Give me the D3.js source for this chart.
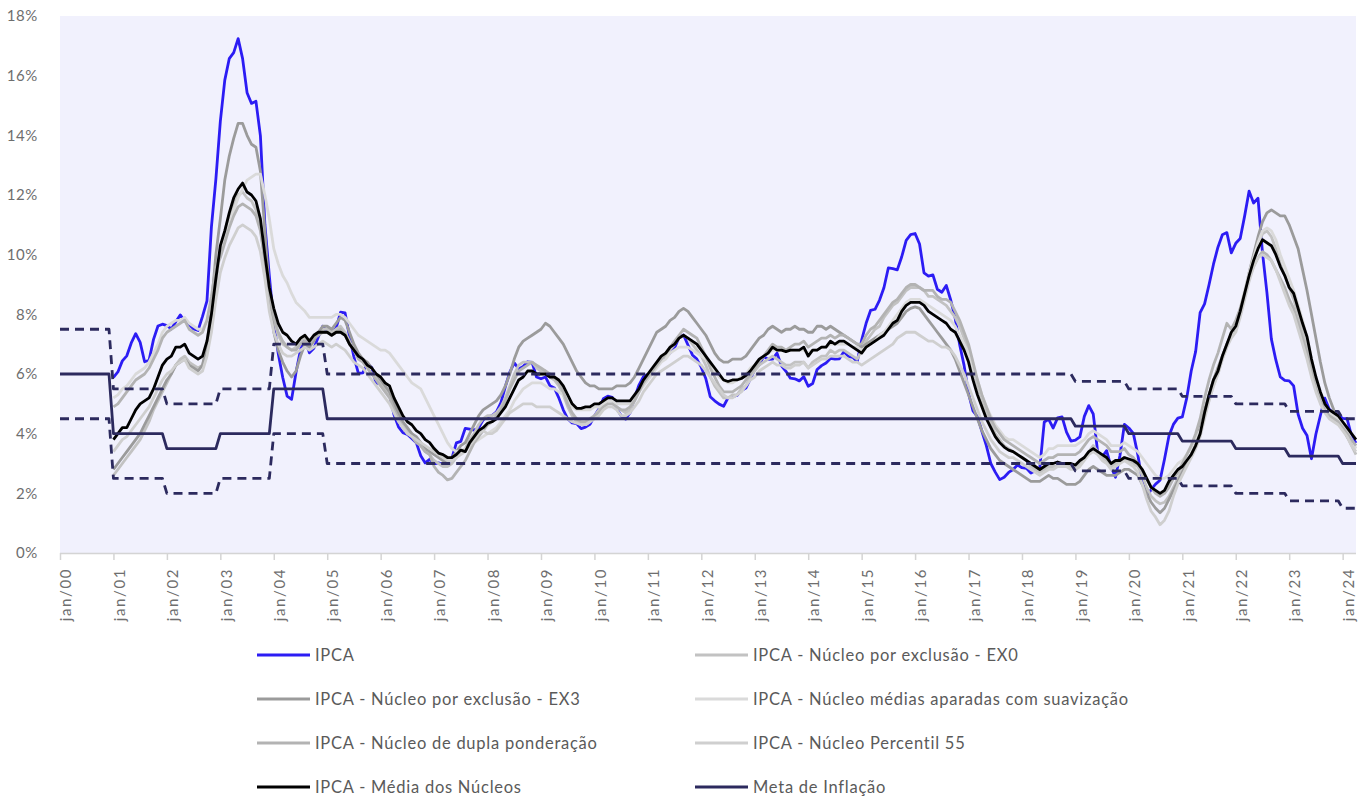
<!DOCTYPE html>
<html><head><meta charset="utf-8">
<script src="https://cdn.jsdelivr.net/npm/d3@7"></script>
<style>
body{margin:0;background:#fff;}
svg{display:block;font-family:Lato,"Open Sans",sans-serif;}
</style>
</head><body>
<svg id="chart" width="1365" height="796"></svg>
<script>
// ---------------- DATA ----------------
// x-axis tick labels (one per January, 2000..2024)
const tickLabels = ["jan/00","jan/01","jan/02","jan/03","jan/04","jan/05","jan/06","jan/07","jan/08","jan/09","jan/10","jan/11","jan/12","jan/13","jan/14","jan/15","jan/16","jan/17","jan/18","jan/19","jan/20","jan/21","jan/22","jan/23","jan/24"];
const yTicks = [0,2,4,6,8,10,12,14,16,18];
// monthly series, 12-month accumulated (%), Jan 2001 .. Apr 2024
const ipca = [
5.89,6.07,6.44,6.61,7.04,7.35,7.06,6.41,6.46,7.16,7.61,7.67,
7.62,7.51,7.75,7.98,7.77,7.66,7.51,7.46,7.93,8.45,10.93,12.53,
14.47,15.85,16.57,16.77,17.24,16.57,15.43,15.07,15.14,13.98,11.02,9.30,
7.71,6.69,5.89,5.26,5.15,6.06,6.81,7.18,6.71,6.86,7.24,7.60,
7.41,7.39,7.54,8.07,8.05,7.27,6.57,6.02,6.04,6.36,6.22,5.69,
5.70,5.51,5.32,4.63,4.23,4.03,3.97,3.84,3.70,3.26,3.02,3.14,
2.99,3.02,2.96,3.00,3.18,3.69,3.74,4.18,4.15,4.12,4.19,4.46,
4.56,4.61,4.73,5.04,5.58,6.06,6.37,6.17,6.25,6.41,6.39,5.90,
5.84,5.90,5.61,5.53,5.20,4.80,4.50,4.36,4.34,4.17,4.22,4.31,
4.59,4.83,5.17,5.26,5.22,4.84,4.60,4.49,4.70,5.20,5.63,5.91,
5.99,6.01,6.30,6.51,6.55,6.71,6.87,7.23,7.31,6.97,6.64,6.50,
6.22,5.85,5.24,5.10,4.99,4.92,5.20,5.24,5.28,5.45,5.53,5.84,
6.15,6.31,6.59,6.49,6.50,6.70,6.27,6.09,5.86,5.84,5.77,5.91,
5.59,5.68,6.15,6.28,6.37,6.52,6.50,6.51,6.75,6.59,6.56,6.41,
7.14,7.70,8.13,8.17,8.47,8.89,9.56,9.53,9.49,9.93,10.48,10.67,
10.71,10.36,9.39,9.28,9.32,8.84,8.74,8.97,8.48,7.87,6.99,6.29,
5.35,4.76,4.57,4.08,3.60,3.00,2.71,2.46,2.54,2.70,2.80,2.95,
2.86,2.84,2.68,2.76,2.86,4.39,4.48,4.19,4.53,4.56,4.05,3.75,
3.78,3.89,4.58,4.94,4.66,3.37,3.22,3.43,2.89,2.54,3.27,4.31,
4.19,4.01,3.30,2.40,1.88,2.13,2.31,2.44,3.14,3.92,4.31,4.52,
4.56,5.20,6.10,6.76,8.06,8.35,8.99,9.68,10.25,10.67,10.74,10.06,
10.38,10.54,11.30,12.13,11.73,11.89,10.07,8.73,7.17,6.47,5.90,5.79,
5.77,5.60,4.65,4.18,3.94,3.16,3.99,4.61,5.19,4.82,4.68,4.62,
4.51,4.50,3.93,3.69];
const ex0 = [
2.6,2.8,3.0,3.2,3.4,3.6,3.8,4.1,4.4,4.8,5.1,5.4,
5.7,6.0,6.3,6.5,6.6,6.4,6.3,6.2,6.3,6.8,7.7,9.0,
10.2,10.8,11.3,11.7,12.0,12.1,11.9,11.8,11.5,10.9,9.7,8.6,
7.8,7.3,7.0,6.9,6.8,6.9,7.1,7.2,7.1,7.3,7.4,7.5,
7.5,7.4,7.5,7.6,7.4,7.1,6.8,6.6,6.4,6.2,6.0,5.9,
5.7,5.5,5.3,4.9,4.6,4.3,4.1,4.0,3.8,3.6,3.4,3.3,
3.1,3.0,2.9,2.9,3.0,3.2,3.4,3.5,3.8,4.0,4.3,4.5,
4.6,4.6,4.7,4.9,5.2,5.6,6.0,6.3,6.4,6.4,6.4,6.2,
6.1,6.1,5.9,5.8,5.6,5.3,4.9,4.6,4.4,4.3,4.3,4.4,
4.6,4.8,5.0,5.1,5.1,4.9,4.8,4.7,4.8,5.1,5.4,5.7,
5.9,6.0,6.3,6.5,6.6,6.8,7.0,7.2,7.3,7.2,7.0,6.8,
6.6,6.3,5.9,5.6,5.4,5.2,5.2,5.3,5.3,5.5,5.6,5.9,
6.1,6.3,6.4,6.5,6.6,6.5,6.4,6.3,6.3,6.4,6.4,6.4,
6.2,6.4,6.5,6.6,6.6,6.8,6.7,6.8,6.8,6.7,6.6,6.5,
6.8,7.1,7.3,7.5,7.6,7.9,8.1,8.3,8.4,8.6,8.8,8.9,
8.9,8.9,8.8,8.6,8.6,8.5,8.4,8.3,8.1,7.9,7.6,7.2,
6.8,6.2,5.6,5.1,4.7,4.3,4.0,3.8,3.6,3.5,3.4,3.3,
3.2,3.1,2.9,2.8,2.7,2.8,2.9,2.9,2.9,2.9,2.9,2.9,
2.9,3.0,3.2,3.4,3.6,3.4,3.2,3.1,2.9,3.0,3.1,3.2,
3.1,3.0,2.9,2.6,2.2,1.9,1.75,1.65,1.7,1.9,2.2,2.5,
2.8,3.0,3.3,3.6,4.0,4.7,5.3,5.8,6.2,6.6,7.0,7.3,
7.5,8.0,8.6,9.2,9.8,10.3,10.7,10.8,10.6,10.2,9.7,9.3,
8.9,8.5,8.0,7.4,6.9,6.2,5.6,5.1,4.8,4.6,4.5,4.5,
4.2,3.9,3.6,3.3];
const ex3 = [
2.8,3.0,3.2,3.4,3.6,3.8,4.0,4.3,4.6,4.9,5.2,5.5,
5.8,6.0,6.3,6.4,6.5,6.3,6.2,6.1,6.3,7.0,8.3,10.0,
11.2,12.5,13.3,13.9,14.4,14.4,14.0,13.7,13.6,12.8,10.8,8.8,
7.4,6.8,6.4,6.1,5.9,6.1,6.6,7.0,6.9,7.1,7.4,7.6,
7.6,7.5,7.7,7.9,7.8,7.4,7.0,6.7,6.5,6.4,6.2,6.0,
5.8,5.6,5.4,5.0,4.7,4.4,4.2,4.0,3.9,3.7,3.5,3.4,
3.3,3.2,3.1,3.1,3.2,3.4,3.6,3.7,4.0,4.3,4.6,4.8,
4.9,5.0,5.1,5.3,5.6,6.0,6.5,6.9,7.1,7.2,7.3,7.4,
7.5,7.7,7.6,7.4,7.2,7.0,6.7,6.4,6.1,5.9,5.7,5.6,
5.6,5.5,5.5,5.5,5.5,5.6,5.6,5.6,5.7,5.9,6.2,6.5,
6.8,7.1,7.4,7.5,7.6,7.8,7.9,8.1,8.2,8.1,7.9,7.7,
7.5,7.3,7.0,6.7,6.5,6.4,6.4,6.5,6.5,6.5,6.6,6.8,
7.0,7.2,7.3,7.5,7.6,7.5,7.4,7.5,7.5,7.6,7.5,7.5,
7.4,7.4,7.6,7.6,7.5,7.6,7.5,7.4,7.3,7.2,7.1,7.0,
6.9,7.0,7.1,7.2,7.3,7.4,7.5,7.6,7.7,7.9,8.1,8.2,
8.25,8.2,8.0,7.8,7.6,7.4,7.2,7.0,6.8,6.5,6.1,5.7,
5.3,4.9,4.5,4.1,3.8,3.5,3.3,3.1,3.0,2.9,2.8,2.7,
2.6,2.5,2.4,2.4,2.4,2.5,2.6,2.5,2.5,2.4,2.3,2.3,
2.3,2.4,2.6,2.8,2.9,2.8,2.7,2.6,2.6,2.6,2.7,2.8,
2.8,2.7,2.6,2.3,2.0,1.7,1.5,1.35,1.5,1.8,2.1,2.4,
2.7,3.0,3.3,3.7,4.2,4.8,5.3,5.8,6.2,6.6,7.0,7.3,
7.6,8.1,8.7,9.4,10.0,10.6,11.1,11.4,11.5,11.4,11.3,11.3,
11.0,10.6,10.2,9.5,8.8,8.0,7.2,6.4,5.7,5.2,4.8,4.5,
4.2,3.9,3.7,3.6];
const ms = [
5.2,5.3,5.5,5.6,5.8,6.0,6.1,6.2,6.4,6.7,7.0,7.4,
7.6,7.7,7.8,7.8,7.9,7.7,7.6,7.5,7.5,7.8,8.4,9.3,
10.0,10.5,11.0,11.5,11.9,12.2,12.5,12.6,12.7,12.7,12.0,11.2,
10.2,9.7,9.3,9.05,8.7,8.4,8.25,8.1,7.9,7.9,7.9,7.9,
7.9,7.9,8.0,8.0,7.9,7.7,7.5,7.3,7.2,7.1,7.0,6.9,
6.8,6.8,6.7,6.5,6.3,6.1,5.9,5.7,5.6,5.5,5.2,4.9,
4.6,4.3,4.0,3.7,3.5,3.4,3.4,3.5,3.6,3.7,3.8,3.9,
4.0,4.1,4.2,4.4,4.6,4.8,5.1,5.3,5.5,5.6,5.7,5.7,
5.7,5.6,5.5,5.5,5.4,5.3,5.1,4.9,4.8,4.8,4.8,4.8,
4.9,4.9,5.0,5.1,5.1,5.0,5.0,5.0,5.0,5.2,5.4,5.6,
5.8,6.0,6.2,6.4,6.5,6.7,6.8,6.9,6.9,6.9,6.8,6.7,
6.6,6.5,6.3,6.1,5.9,5.8,5.7,5.7,5.8,5.9,6.0,6.2,
6.3,6.5,6.6,6.7,6.8,6.8,6.8,6.8,6.8,6.8,6.8,6.8,
6.7,6.8,6.8,6.9,6.9,7.0,7.0,7.0,7.0,7.0,6.9,6.9,
6.8,6.9,7.0,7.1,7.3,7.4,7.6,7.8,8.0,8.2,8.4,8.5,
8.5,8.5,8.4,8.3,8.2,8.1,8.0,7.9,7.8,7.6,7.3,7.0,
6.7,6.2,5.8,5.3,4.9,4.6,4.3,4.1,3.9,3.8,3.8,3.7,
3.6,3.5,3.4,3.3,3.2,3.3,3.5,3.5,3.6,3.6,3.6,3.6,
3.6,3.7,3.8,4.0,4.1,4.0,3.9,3.8,3.6,3.6,3.6,3.7,
3.6,3.5,3.4,3.2,3.0,2.8,2.6,2.5,2.5,2.6,2.8,3.0,
3.1,3.3,3.5,3.8,4.1,4.6,5.1,5.6,6.0,6.5,6.9,7.3,
7.7,8.2,8.8,9.4,9.9,10.4,10.8,10.9,10.8,10.5,10.0,9.6,
9.2,8.8,8.3,7.8,7.2,6.5,5.8,5.3,4.9,4.7,4.6,4.5,
4.3,4.1,3.8,3.5];
const dp = [
4.9,5.0,5.2,5.4,5.6,5.8,5.9,6.0,6.2,6.5,6.8,7.2,
7.4,7.5,7.6,7.7,7.8,7.5,7.4,7.3,7.4,7.8,8.6,9.6,
9.9,10.4,10.9,11.3,11.6,11.7,11.6,11.5,11.3,10.8,9.8,8.7,
7.9,7.4,7.1,6.9,6.8,6.8,7.0,7.1,7.0,7.2,7.3,7.4,
7.4,7.3,7.4,7.5,7.3,7.0,6.8,6.5,6.4,6.2,6.0,5.8,
5.6,5.4,5.2,4.8,4.5,4.2,4.0,3.9,3.7,3.6,3.4,3.3,
2.9,2.7,2.6,2.45,2.5,2.7,2.9,3.1,3.4,3.7,3.9,4.1,
4.3,4.4,4.6,4.8,5.1,5.5,5.8,6.1,6.2,6.3,6.4,6.3,
6.2,6.1,6.0,5.9,5.7,5.4,5.0,4.7,4.5,4.4,4.4,4.5,
4.6,4.7,4.9,5.0,5.0,4.9,4.8,4.8,4.9,5.1,5.4,5.7,
5.9,6.1,6.3,6.5,6.7,6.9,7.1,7.3,7.5,7.4,7.3,7.2,
6.9,6.6,6.2,5.9,5.6,5.4,5.4,5.4,5.5,5.6,5.8,6.0,
6.2,6.4,6.6,6.8,7.0,6.9,6.9,6.8,6.9,7.0,7.0,7.1,
6.9,7.0,7.1,7.2,7.2,7.3,7.2,7.3,7.3,7.2,7.1,7.0,
7.0,7.3,7.5,7.6,7.8,8.0,8.2,8.4,8.5,8.7,8.9,9.0,
9.0,8.9,8.8,8.8,8.8,8.6,8.5,8.5,8.4,8.1,7.8,7.4,
7.0,6.4,5.8,5.3,4.9,4.5,4.2,4.0,3.8,3.7,3.6,3.5,
3.4,3.3,3.2,3.1,3.0,3.1,3.2,3.2,3.3,3.3,3.3,3.3,
3.3,3.4,3.6,3.8,3.9,3.8,3.7,3.6,3.4,3.4,3.4,3.5,
3.3,3.2,3.0,2.8,2.5,2.2,2.0,1.9,2.0,2.2,2.5,2.7,
3.0,3.3,3.6,4.0,4.5,5.2,5.8,6.3,6.7,7.2,7.7,7.5,
7.8,8.2,8.7,9.2,9.6,9.9,10.1,10.0,9.8,9.5,9.2,8.9,
8.5,8.2,7.7,7.2,6.7,6.1,5.5,5.1,4.8,4.6,4.5,4.4,
4.2,4.0,3.8,3.6];
const p55 = [
3.4,3.6,3.8,3.9,4.1,4.3,4.5,4.7,4.9,5.2,5.5,5.8,
6.0,6.1,6.3,6.4,6.5,6.2,6.1,6.0,6.1,6.6,7.4,8.5,
9.4,9.9,10.3,10.6,10.9,11.0,10.9,10.8,10.6,10.1,9.2,8.1,
7.4,7.0,6.7,6.6,6.6,6.7,6.8,6.9,6.8,6.9,7.0,7.1,
7.0,6.9,7.0,6.9,6.8,6.6,6.4,6.3,6.2,6.0,5.8,5.6,
5.4,5.2,5.0,4.7,4.4,4.2,4.0,3.9,3.8,3.7,3.6,3.5,
3.4,3.3,3.2,3.1,3.1,3.2,3.3,3.4,3.6,3.8,4.0,4.1,
4.0,4.0,4.1,4.3,4.5,4.7,4.8,4.9,5.0,5.0,5.0,4.9,
4.9,4.9,4.9,4.8,4.7,4.6,4.5,4.4,4.35,4.3,4.3,4.4,
4.5,4.6,4.8,4.9,4.9,4.8,4.6,4.6,4.7,4.9,5.1,5.4,
5.6,5.8,6.0,6.1,6.2,6.3,6.4,6.5,6.6,6.6,6.5,6.4,
6.3,6.1,5.9,5.7,5.5,5.3,5.2,5.2,5.3,5.4,5.6,5.8,
5.9,6.1,6.2,6.3,6.4,6.3,6.3,6.2,6.2,6.3,6.3,6.4,
6.2,6.3,6.4,6.5,6.5,6.6,6.6,6.6,6.6,6.5,6.4,6.4,
6.3,6.4,6.5,6.6,6.7,6.8,6.9,7.0,7.2,7.3,7.4,7.4,
7.4,7.3,7.2,7.1,7.1,7.0,6.9,6.9,6.8,6.6,6.3,6.0,
5.6,5.2,4.8,4.4,4.1,3.8,3.6,3.4,3.3,3.2,3.2,3.1,
3.0,2.9,2.8,2.7,2.6,2.7,2.8,2.8,2.9,2.9,2.9,2.8,
2.8,2.9,3.1,3.3,3.4,3.3,3.1,3.0,2.8,2.9,3.0,3.1,
3.0,2.9,2.7,2.3,1.8,1.4,1.2,0.95,1.1,1.4,1.9,2.3,
2.6,2.9,3.2,3.5,3.9,4.5,5.1,5.6,6.0,6.5,6.9,7.2,
7.4,7.9,8.5,9.1,9.6,9.9,10.0,9.9,9.8,9.5,9.1,8.7,
8.3,8.0,7.5,7.0,6.5,5.9,5.4,5.0,4.7,4.5,4.4,4.3,
4.1,3.9,3.6,3.4];
const media = [
3.8,4.0,4.2,4.2,4.5,4.8,5.0,5.1,5.2,5.5,5.9,6.3,
6.5,6.6,6.9,6.9,7.0,6.7,6.6,6.5,6.6,7.1,8.0,9.2,
10.3,10.8,11.4,11.9,12.2,12.4,12.1,12.0,11.8,11.2,10.0,8.9,
8.2,7.7,7.4,7.3,7.1,7.0,7.2,7.3,7.1,7.3,7.4,7.4,
7.4,7.3,7.4,7.4,7.3,7.0,6.8,6.6,6.5,6.3,6.2,6.0,
5.9,5.7,5.6,5.2,4.9,4.6,4.4,4.3,4.1,4.0,3.8,3.7,
3.5,3.35,3.3,3.2,3.2,3.3,3.45,3.4,3.7,3.9,4.1,4.2,
4.35,4.4,4.5,4.7,4.9,5.2,5.5,5.8,5.9,6.1,6.1,6.0,
6.0,6.0,5.9,5.9,5.8,5.6,5.3,5.0,4.85,4.85,4.9,4.9,
5.0,5.0,5.1,5.2,5.2,5.1,5.1,5.1,5.1,5.3,5.5,5.8,
6.0,6.2,6.4,6.6,6.7,6.9,7.0,7.2,7.3,7.2,7.1,7.0,
6.8,6.6,6.4,6.2,6.0,5.8,5.75,5.8,5.8,5.85,5.95,6.1,
6.3,6.5,6.6,6.7,6.9,6.8,6.8,6.75,6.8,6.8,6.8,6.9,
6.6,6.8,6.8,6.9,6.9,7.1,7.0,7.1,7.1,7.0,6.9,6.8,
6.7,6.9,7.0,7.1,7.2,7.3,7.5,7.7,7.8,8.1,8.3,8.4,
8.4,8.4,8.3,8.1,8.0,7.9,7.8,7.7,7.5,7.4,7.1,6.8,
6.4,5.8,5.3,4.9,4.5,4.2,3.9,3.7,3.55,3.45,3.4,3.3,
3.2,3.1,3.0,2.9,2.8,2.9,3.0,3.0,3.05,3.0,3.0,3.0,
2.95,3.1,3.2,3.4,3.5,3.4,3.3,3.2,3.0,3.1,3.1,3.2,
3.15,3.1,3.0,2.8,2.5,2.2,2.1,2.0,2.1,2.4,2.6,2.8,
2.9,3.1,3.3,3.6,4.0,4.7,5.3,5.8,6.1,6.6,7.0,7.4,
7.6,8.1,8.7,9.3,9.8,10.2,10.5,10.4,10.3,10.0,9.6,9.3,
8.9,8.7,8.2,7.7,7.25,6.5,5.9,5.4,5.0,4.8,4.7,4.6,
4.4,4.2,4.0,3.8];
// Inflation target and tolerance band, by calendar year (2000..2024)
const metaYears  = [2000,2001,2002,2003,2004,2005,2006,2007,2008,2009,2010,2011,2012,2013,2014,2015,2016,2017,2018,2019,2020,2021,2022,2023,2024];
const metaTarget = [6.0,4.0,3.5,4.0,5.5,4.5,4.5,4.5,4.5,4.5,4.5,4.5,4.5,4.5,4.5,4.5,4.5,4.5,4.5,4.25,4.0,3.75,3.5,3.25,3.0];
const metaUpper  = [7.5,5.5,5.0,5.5,7.0,6.0,6.0,6.0,6.0,6.0,6.0,6.0,6.0,6.0,6.0,6.0,6.0,6.0,6.0,5.75,5.5,5.25,5.0,4.75,4.5];
const metaLower  = [4.5,2.5,2.0,2.5,4.0,3.0,3.0,3.0,3.0,3.0,3.0,3.0,3.0,3.0,3.0,3.0,3.0,3.0,3.0,2.75,2.5,2.25,2.0,1.75,1.5];
const seriesNames = ["IPCA","IPCA - Núcleo por exclusão - EX0","IPCA - Núcleo por exclusão - EX3","IPCA - Núcleo médias aparadas com suavização","IPCA - Núcleo de dupla ponderação","IPCA - Núcleo Percentil 55","IPCA - Média dos Núcleos","Meta de Inflação"];

// ---------------- CHART ----------------
const svg = d3.select("#chart");
const L = 60, R = 1356, T = 16, B = 553;
const lastMonth = 291;            // Apr 2024, months since Jan 2000
const coreStart = 12;             // Jan 2001
const x = d3.scaleLinear().domain([0, lastMonth]).range([L, R]);
const y = d3.scaleLinear().domain([0, 18]).range([B, T]);

svg.append("rect").attr("x", L).attr("y", T).attr("width", R - L).attr("height", B - T).attr("fill", "#f1f1fd");

// y labels
svg.append("g").selectAll("text").data(yTicks).join("text")
  .attr("x", 38).attr("y", d => y(d)).attr("dy", "0.35em")
  .attr("text-anchor", "end").attr("font-size", 15).attr("letter-spacing", 0.6).attr("fill", "#6e6e6e")
  .text(d => d + "%");

// x axis
const tickVals = tickLabels.map((_, i) => i * 12);
const xAxis = svg.append("g").attr("transform", `translate(0,${B})`)
  .call(d3.axisBottom(x).tickValues(tickVals).tickSize(7).tickFormat(""));
xAxis.select(".domain").attr("stroke", "#d4d4d4").attr("stroke-width", 1.5).attr("d", `M${L},0.5H${R}`);
xAxis.selectAll(".tick line").attr("stroke", "#d4d4d4").attr("stroke-width", 1.5);
svg.append("g").selectAll("text").data(tickLabels).join("text")
  .attr("transform", (d, i) => `translate(${x(i * 12) + 6},${B + 15}) rotate(-90)`)
  .attr("text-anchor", "end").attr("dy", "0.35em")
  .attr("font-size", 15).attr("letter-spacing", 1.6).attr("fill", "#6e6e6e")
  .text(d => d);

// lines
const line = d3.line().x(d => x(d[0])).y(d => y(d[1]));
const toPts = arr => arr.map((v, i) => [i + coreStart, v]);
const monthly = arr => d3.range(0, lastMonth + 1).map(m => [m, arr[metaYears.indexOf(2000 + Math.floor(m / 12))]]);

const colors = ["#2c1cf4", "#c2c2c2", "#9b9b9b", "#dadada", "#b3b3b3", "#cfcfcf", "#000000", "#2c2a5e"];
const seriesData = [ipca, ex0, ex3, ms, dp, p55, media];
const g = svg.append("g").attr("fill", "none").attr("stroke-linejoin", "round").attr("stroke-width", 2.8);
seriesData.forEach((arr, i) => {
  g.append("path").attr("d", line(toPts(arr))).attr("stroke", colors[i]);
});
g.append("path").attr("d", line(monthly(metaUpper))).attr("stroke", colors[7]).attr("stroke-dasharray", "9,6");
g.append("path").attr("d", line(monthly(metaLower))).attr("stroke", colors[7]).attr("stroke-dasharray", "9,6");
g.append("path").attr("d", line(monthly(metaTarget))).attr("stroke", colors[7]);

// legend
const legendPos = seriesNames.map((n, i) => ({ name: n, color: colors[i], col: i % 2, row: Math.floor(i / 2) }));
const lg = svg.append("g").selectAll("g").data(legendPos).join("g")
  .attr("transform", d => `translate(${d.col ? 695 : 257},${655 + d.row * 44})`);
lg.append("line").attr("x1", 0).attr("x2", 53).attr("y1", 0).attr("y2", 0)
  .attr("stroke", d => d.color).attr("stroke-width", 3);
lg.append("text").attr("x", 58).attr("dy", "0.35em").attr("font-size", 16.5).attr("letter-spacing", 0.75)
  .attr("fill", "#5a5a5a").text(d => d.name);
</script>
</body></html>
